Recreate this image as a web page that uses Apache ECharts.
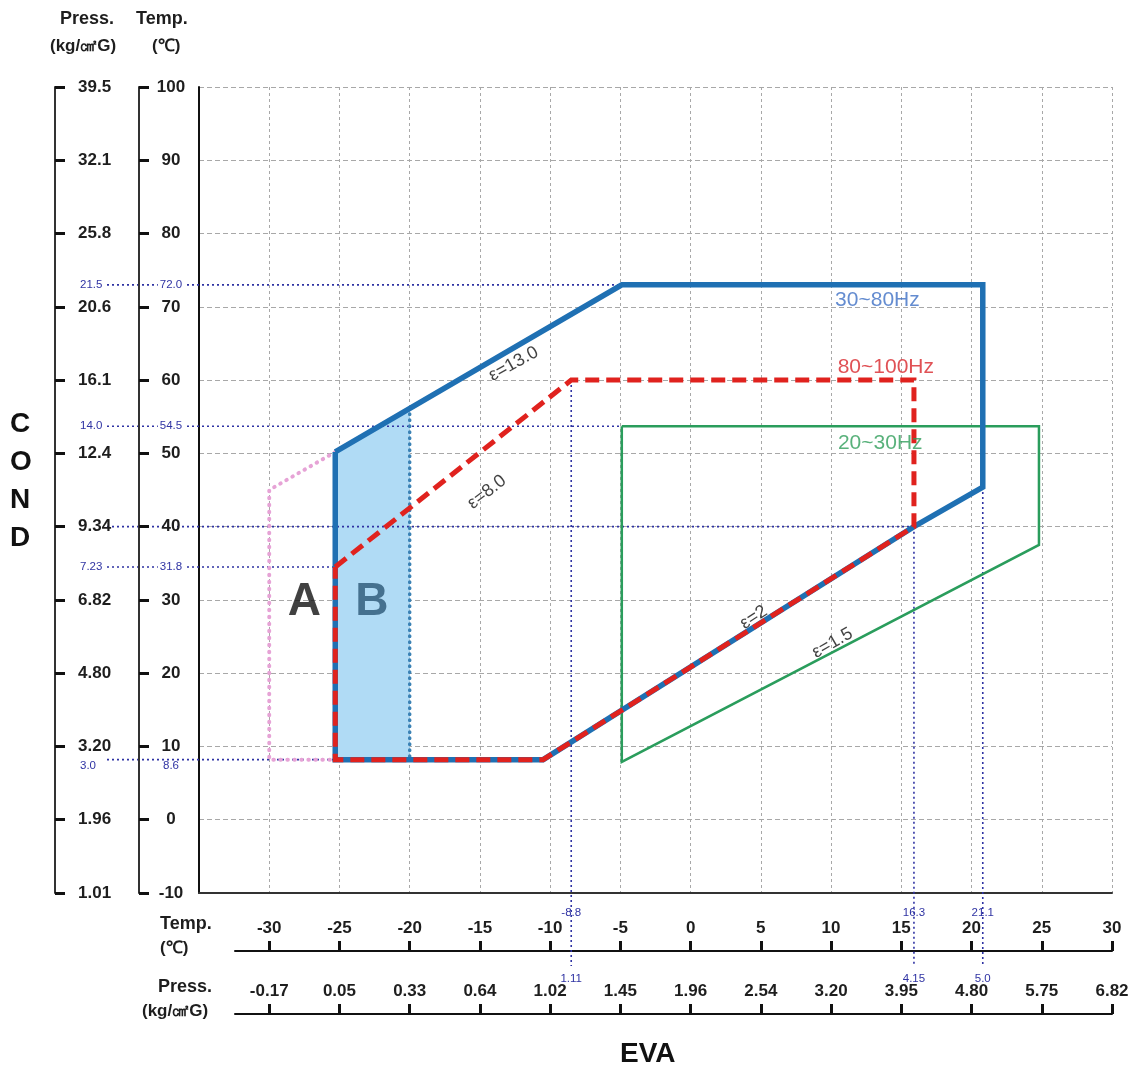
<!DOCTYPE html>
<html><head><meta charset="utf-8">
<script src="https://cdn.jsdelivr.net/npm/echarts@6/dist/echarts.min.js"></script>
<style>html,body{margin:0;padding:0;background:#fff}#chart{width:1133px;height:1072px}</style>
</head><body><div id="chart"></div>
<script>
// ---------------- data ----------------
const condTempTicks = [-10, 0, 10, 20, 30, 40, 50, 60, 70, 80, 90, 100];
const condPressTicks = ['1.01', '1.96', '3.20', '4.80', '6.82', '9.34', '12.4', '16.1', '20.6', '25.8', '32.1', '39.5'];
const evaTempTicks = [-30, -25, -20, -15, -10, -5, 0, 5, 10, 15, 20, 25, 30];
const evaPressTicks = ['-0.17', '0.05', '0.33', '0.64', '1.02', '1.45', '1.96', '2.54', '3.20', '3.95', '4.80', '5.75', '6.82'];

// envelopes: [evaporating temp, condensing temp]
const env30to80 = [[-25.3, 50.2], [-4.9, 73.0], [20.8, 73.0], [20.8, 45.4], [15.9, 40.0], [-10.5, 8.2], [-25.3, 8.2], [-25.3, 50.2]];
const env80to100 = [[-25.3, 34.5], [-8.5, 60.0], [15.9, 60.0], [15.9, 40.0], [-10.5, 8.2], [-25.3, 8.2], [-25.3, 34.5]];
const env20to30 = [[-4.9, 53.7], [24.8, 53.7], [24.8, 37.5], [-4.9, 7.9], [-4.9, 53.7]];
const regionA = [[-25.3, 50.2], [-30.0, 45.0], [-30.0, 8.2], [-25.3, 8.2]];
const regionB = [[-25.3, 8.2], [-25.3, 50.2], [-20.0, 56.2], [-20.0, 8.2]];
const regionBEdge = [[-20.0, 56.2], [-20.0, 8.2]];

// reference lines: condensing side (value, temp text, press text, end on eva axis)
const condMarkValues = [73.0, 53.7, 40.0, 34.5, 8.2];
const condMarkTemp = ['72.0', '54.5', '', '31.8', '8.6'];
const condMarkPress = ['21.5', '14.0', '', '7.23', '3.0'];
const condMarkEnd = [-4.9, -4.9, 15.9, -25.3, -25.3];
// reference lines: evaporating side
const evaMarkValues = [-8.5, 15.9, 20.8];
const evaMarkTemp = ['-8.8', '16.3', '21.1'];
const evaMarkPress = ['1.11', '4.15', '5.0'];
const evaMarkStart = [60.0, 40.0, 45.4];

// ---------------- layout ----------------
const W = 1133, H = 1072;
const GL = 199, GR = 21, GT = 87, GB = 179;
const X_MIN = -35, X_MAX = 30, Y_MIN = -10, Y_MAX = 100;
const pxPerX = (W - GL - GR) / (X_MAX - X_MIN);
const pxPerY = (H - GT - GB) / (Y_MAX - Y_MIN);
const BL = 235;
const X2_MIN = X_MIN + (BL - GL) / pxPerX;
const AL = 107;
const X3_MIN = X_MIN - (GL - AL) / pxPerX;
const ANNO_END_Y = Y_MIN - (966 - (H - GB)) / pxPerY;
const FONT = '"Liberation Sans", Arial, sans-serif';
const NAVY = '#2f33a3';
const INK = '#1e1e1e';

const plotTexts = [
  { text: '30~80Hz', at: [13.3, 70.9], color: '#3d6fc4', size: 21, rot: 0, bold: false },
  { text: '80~100Hz', at: [13.9, 61.8], color: '#d8262a', size: 21, rot: 0, bold: false },
  { text: '20~30Hz', at: [13.5, 51.4], color: '#2f9e5a', size: 21, rot: 0, bold: false },
  { text: 'ε=13.0', at: [-12.6, 62.2], color: '#111', size: 18, rot: 29, bold: false },
  { text: 'ε=8.0', at: [-14.5, 44.7], color: '#111', size: 18, rot: 38, bold: false },
  { text: 'ε=2', at: [4.5, 27.6], color: '#111', size: 18, rot: 33, bold: false },
  { text: 'ε=1.5', at: [10.1, 24.1], color: '#111', size: 18, rot: 30, bold: false },
  { text: 'A', at: [-27.5, 29.7], color: '#111', size: 46, rot: 0, bold: true },
  { text: 'B', at: [-22.7, 29.7], color: '#2b5675', size: 46, rot: 0, bold: true }
];

const near = (a, b) => Math.abs(a - b) < 1e-6;

function lineSeries(data, style, z, xi, yi) {
  return { type: 'line', xAxisIndex: xi || 0, yAxisIndex: yi || 0, data: data, symbol: 'none', clip: false,
    silent: true, z: z, animation: false, lineStyle: style };
}

const series = [];
series.push({
  type: 'custom', xAxisIndex: 0, yAxisIndex: 0, silent: true, z: 1, animation: false,
  data: [regionB[0]],
  renderItem: function (params, api) {
    return { type: 'polygon', shape: { points: regionB.map(p => api.coord(p)) }, style: { fill: '#b0dbf5' } };
  }
});
condMarkValues.forEach((v, i) => {
  series.push(lineSeries([[X3_MIN, v], [condMarkEnd[i], v]], { color: NAVY, width: 1.6, type: [2, 3] }, 2, 3, 4));
});
evaMarkValues.forEach((v, i) => {
  series.push(lineSeries([[v, evaMarkStart[i]], [v, ANNO_END_Y]], { color: NAVY, width: 1.6, type: [2, 3] }, 2));
});
series.push(lineSeries(regionA, { color: '#e6a3d6', width: 4, type: [0.5, 6.5], cap: 'round' }, 3));
series.push(lineSeries(regionBEdge, { color: '#3b82b5', width: 3.5, type: [0.5, 5.5], cap: 'round' }, 3));
series.push(lineSeries(env20to30, { color: '#2a9d5c', width: 2.5, join: 'miter' }, 4));
series.push(lineSeries(env30to80, { color: '#1f70b3', width: 5.5, join: 'miter' }, 5));
series.push(lineSeries(env80to100, { color: '#e0221e', width: 5, type: [14, 7], join: 'miter' }, 6));
series.push({
  type: 'scatter', xAxisIndex: 0, yAxisIndex: 0, symbolSize: 1, silent: true, z: 10, animation: false,
  itemStyle: { color: 'rgba(0,0,0,0)' },
  data: plotTexts.map(t => ({
    value: t.at,
    label: { show: true, position: 'inside', formatter: t.text, color: t.color, fontSize: t.size,
      rotate: t.rot, fontFamily: FONT, fontWeight: t.bold ? 'bold' : 'normal' }
  }))
});

const condAnnoPress = condMarkValues.filter((v, i) => condMarkPress[i]);
const condAnnoTemp = condMarkValues.filter((v, i) => condMarkTemp[i]);
const BELOW_VALUE = 8.2;

const tickLbl = { fontSize: 17, fontWeight: 'bold', color: INK, fontFamily: FONT };
const annoLbl = { fontSize: 11.5, color: NAVY, fontFamily: FONT };

const option = {
  animation: false,
  backgroundColor: '#fff',
  grid: [
    { left: GL, right: GR, top: GT, bottom: GB },
    { left: BL, right: GR, top: 900, bottom: H - 951 },
    { left: AL, right: GR, top: GT, bottom: GB }
  ],
  xAxis: [
    { type: 'value', gridIndex: 0, min: X_MIN, max: X_MAX, interval: 5,
      axisLine: { show: true, onZero: false, lineStyle: { color: '#333', width: 2 } },
      axisTick: { show: false }, axisLabel: { show: false },
      splitLine: { show: true, lineStyle: { color: '#a8a8a8', width: 1, type: [3, 3] } } },
    { type: 'value', gridIndex: 1, min: X2_MIN, max: X_MAX, position: 'bottom', offset: 0,
      axisLine: { show: true, onZero: false, lineStyle: { color: '#111', width: 2 } },
      axisTick: { show: true, inside: true, length: 10, customValues: evaTempTicks, lineStyle: { color: '#111', width: 3 } },
      axisLabel: { show: true, inside: true, margin: 14,
        customValues: evaTempTicks.concat(evaMarkValues),
        formatter: function (v) {
          const k = evaMarkValues.findIndex(m => near(m, v));
          if (k >= 0) return '{a|' + evaMarkTemp[k] + '}';
          return '{t|' + v + '}';
        },
        rich: { t: tickLbl, a: Object.assign({}, annoLbl, { padding: [0, 0, 18, 0] }) } },
      splitLine: { show: false } },
    { type: 'value', gridIndex: 1, min: X2_MIN, max: X_MAX, position: 'bottom', offset: 63,
      axisLine: { show: true, onZero: false, lineStyle: { color: '#111', width: 2 } },
      axisTick: { show: true, inside: true, length: 10, customValues: evaTempTicks, lineStyle: { color: '#111', width: 3 } },
      axisLabel: { show: true, inside: true, margin: 14,
        customValues: evaTempTicks.concat(evaMarkValues),
        formatter: function (v) {
          const k = evaMarkValues.findIndex(m => near(m, v));
          if (k >= 0) return '{a|' + evaMarkPress[k] + '}';
          const i = evaTempTicks.findIndex(t => near(t, v));
          return '{t|' + evaPressTicks[i] + '}';
        },
        rich: { t: tickLbl, a: Object.assign({}, annoLbl, { padding: [0, 0, 15, 0] }) } },
      splitLine: { show: false } },
    { type: 'value', gridIndex: 2, min: X3_MIN, max: X_MAX, show: false }
  ],
  yAxis: [
    { type: 'value', gridIndex: 0, min: Y_MIN, max: Y_MAX, interval: 10,
      axisLine: { show: true, onZero: false, lineStyle: { color: '#111', width: 2 } },
      axisTick: { show: false }, axisLabel: { show: false },
      splitLine: { show: true, lineStyle: { color: '#a8a8a8', width: 1, type: [5, 3] } } },
    { type: 'value', gridIndex: 0, min: Y_MIN, max: Y_MAX, position: 'left', offset: GL - 55, z: 5,
      axisLine: { show: true, onZero: false, lineStyle: { color: '#333', width: 2 } },
      axisTick: { show: true, inside: true, length: 10, customValues: condTempTicks, lineStyle: { color: '#111', width: 3 } },
      axisLabel: { show: true, inside: true, margin: 23,
        customValues: condTempTicks.concat(condAnnoPress),
        formatter: function (v) {
          const k = condMarkValues.findIndex(m => near(m, v));
          if (k >= 0 && condMarkPress[k] && !condTempTicks.some(t => near(t, v))) {
            return '{' + (near(v, BELOW_VALUE) ? 'b' : 'a') + '|' + condMarkPress[k] + '}';
          }
          const i = condTempTicks.findIndex(t => near(t, v));
          return '{t|' + condPressTicks[i] + '}';
        },
        rich: { t: tickLbl, a: Object.assign({}, annoLbl, { backgroundColor: '#fff', padding: [1, 2, 1, 2] }),
          b: Object.assign({}, annoLbl, { padding: [13, 2, 0, 2] }) } },
      splitLine: { show: false } },
    { type: 'value', gridIndex: 0, min: Y_MIN, max: Y_MAX, position: 'left', offset: GL - 139, z: 5,
      axisLine: { show: true, onZero: false, lineStyle: { color: '#333', width: 2 } },
      axisTick: { show: true, inside: true, length: 10, customValues: condTempTicks, lineStyle: { color: '#111', width: 3 } },
      axisLabel: { show: true, inside: true, margin: 32, align: 'center',
        customValues: condTempTicks.concat(condAnnoTemp),
        formatter: function (v) {
          const k = condMarkValues.findIndex(m => near(m, v));
          if (k >= 0 && condMarkTemp[k] && !condTempTicks.some(t => near(t, v))) {
            return '{' + (near(v, BELOW_VALUE) ? 'b' : 'a') + '|' + condMarkTemp[k] + '}';
          }
          return '{t|' + v + '}';
        },
        rich: { t: tickLbl, a: Object.assign({}, annoLbl, { backgroundColor: '#fff', padding: [1, 2, 1, 2] }),
          b: Object.assign({}, annoLbl, { padding: [13, 2, 0, 2] }) } },
      splitLine: { show: false } },
    { type: 'value', gridIndex: 1, min: 0, max: 1, show: false },
    { type: 'value', gridIndex: 2, min: Y_MIN, max: Y_MAX, show: false }
  ],
  graphic: [
    { type: 'text', left: 60, top: 10, style: { text: 'Press.', font: 'bold 18px ' + FONT, fill: INK } },
    { type: 'text', left: 50, top: 38, style: { text: '(kg/㎠G)', font: 'bold 17px ' + FONT, fill: INK } },
    { type: 'text', left: 136, top: 10, style: { text: 'Temp.', font: 'bold 18px ' + FONT, fill: INK } },
    { type: 'text', left: 152, top: 38, style: { text: '(℃)', font: 'bold 17px ' + FONT, fill: INK } },
    { type: 'text', left: 10, top: 410, style: { text: 'C', font: 'bold 28px ' + FONT, fill: '#111' } },
    { type: 'text', left: 10, top: 448, style: { text: 'O', font: 'bold 28px ' + FONT, fill: '#111' } },
    { type: 'text', left: 10, top: 486, style: { text: 'N', font: 'bold 28px ' + FONT, fill: '#111' } },
    { type: 'text', left: 10, top: 524, style: { text: 'D', font: 'bold 28px ' + FONT, fill: '#111' } },
    { type: 'text', left: 160, top: 915, style: { text: 'Temp.', font: 'bold 18px ' + FONT, fill: INK } },
    { type: 'text', left: 160, top: 940, style: { text: '(℃)', font: 'bold 17px ' + FONT, fill: INK } },
    { type: 'text', left: 158, top: 978, style: { text: 'Press.', font: 'bold 18px ' + FONT, fill: INK } },
    { type: 'text', left: 142, top: 1003, style: { text: '(kg/㎠G)', font: 'bold 17px ' + FONT, fill: INK } },
    { type: 'text', left: 620, top: 1040, style: { text: 'EVA', font: 'bold 28px ' + FONT, fill: '#111' } }
  ],
  series: series
};

const chart = echarts.init(document.getElementById('chart'));
chart.setOption(option);
</script>
</body></html>
